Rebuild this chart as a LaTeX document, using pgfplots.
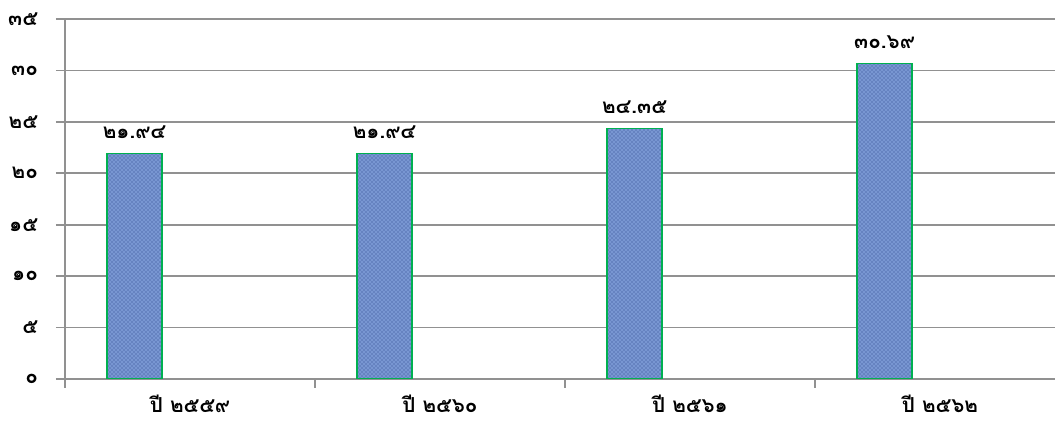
\documentclass[border=0pt]{standalone}
\usepackage{pgfplots}
\pgfplotsset{compat=1.18}
\usetikzlibrary{patterns}
\usepackage{fontspec}
\newfontfamily\thai[Script=Thai]{Loma}
\definecolor{barblue}{RGB}{120,150,210}
\definecolor{bardark}{RGB}{45,70,140}
\definecolor{bargreen}{RGB}{0,176,80}
\definecolor{gridgray}{RGB}{145,145,145}
\begin{document}
\begin{tikzpicture}
\begin{axis}[
  scale only axis,
  width=742.5pt, height=270pt,
  xmin=0, xmax=3.96, ymin=0, ymax=35,
  enlargelimits=false,
  axis x line=bottom, axis y line=left,
  axis line style={-, draw=gridgray, line width=1.3pt},
  ytick={0,5,...,35},
  yticklabels={๐,๕,๑๐,๑๕,๒๐,๒๕,๓๐,๓๕},
  xtick={0.5,1.5,2.5,3.5},
  xticklabels={ปี ๒๕๕๙,ปี ๒๕๖๐,ปี ๒๕๖๑,ปี ๒๕๖๒},
  minor xtick={0,1,2,3},
  tick align=outside,
  major tick length=6.75pt,
  minor tick length=6.75pt,
  x tick style={draw=gridgray, line width=1.3pt},
  major x tick style={draw=none},
  ytick style={draw=gridgray, line width=1.3pt},
  ymajorgrids,
  grid style={draw=gridgray, line width=1.3pt},
  ticklabel style={font=\thai\bfseries\fontsize{15.5}{18}\selectfont},
  yticklabel style={xshift=-10pt},
  xticklabel style={yshift=-2pt},
  ybar, bar width=0.22,
  nodes near coords,
  point meta=explicit symbolic,
  every node near coord/.append style={font=\thai\bfseries\fontsize{15.5}{18}\selectfont, yshift=7pt, black},
]
\addplot[fill=barblue, draw=bargreen, line width=1.2pt,
  postaction={pattern=crosshatch dots, pattern color=bardark}] coordinates {
  (0.278,21.94) [๒๑.๙๔]
  (1.278,21.94) [๒๑.๙๔]
  (2.278,24.35) [๒๔.๓๕]
  (3.278,30.69) [๓๐.๖๙]
};
\coordinate (bl) at (rel axis cs:0,0);
\coordinate (tr) at (rel axis cs:1,1);
\end{axis}
\pgfresetboundingbox
\path ([xshift=-48.75pt,yshift=-38.25pt]bl) rectangle ([yshift=14.25pt]tr);
\end{tikzpicture}
\end{document}
